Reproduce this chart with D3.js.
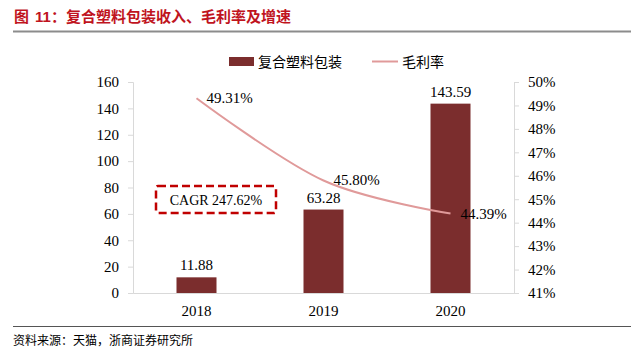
<!DOCTYPE html>
<html><head><meta charset="utf-8">
<script src="https://cdn.jsdelivr.net/npm/d3@7"></script>
<style>
body{margin:0;background:#fff;}
svg{display:block;}
</style></head>
<body>
<svg id="c" width="644" height="356"></svg>
<script>
const categories = ["2018", "2019", "2020"];
const revenue = [11.88, 63.28, 143.59];
const margin = [49.31, 45.80, 44.39];
const leftTicks = [0, 20, 40, 60, 80, 100, 120, 140, 160];
const rightTicks = [41, 42, 43, 44, 45, 46, 47, 48, 49, 50];
const titlePrefix = "图 11：";
const title = "复合塑料包装收入、毛利率及增速";
const source = "资料来源：天猫，浙商证券研究所";
const seriesNames = ["复合塑料包装", "毛利率"];
const cagrText = "CAGR 247.62%";

const svg = d3.select("#c");
const serif = "'Liberation Serif','Times New Roman',serif";
const cjk = "'Noto Sans CJK SC',sans-serif";
const L = 133, R = 514, T = 82, B = 293;
const barColor = "#7B2D2D", lineColor = "#E09A9A", axisColor = "#D9D9D9";

// title
const tt = svg.append("text").attr("x", 14).attr("y", 22).attr("fill", "#C0141E")
  .attr("font-family", "'Liberation Sans','Noto Sans CJK SC',sans-serif").attr("font-weight", "bold").attr("font-size", 15);
tt.append("tspan").attr("font-family", cjk).text("图");
tt.append("tspan").attr("dx", 6).text("11");
tt.append("tspan").attr("font-family", cjk).text("：" + title);
svg.append("line").attr("x1", 13).attr("x2", 631).attr("y1", 31.5).attr("y2", 31.5)
  .attr("stroke", "#8C8C8C").attr("stroke-width", 2);
svg.append("line").attr("x1", 13).attr("x2", 631).attr("y1", 326.5).attr("y2", 326.5)
  .attr("stroke", "#555").attr("stroke-width", 1);
svg.append("text").attr("x", 13).attr("y", 345).attr("fill", "#000")
  .attr("font-family", cjk).attr("font-size", 12).text(source);

const x = d3.scaleBand().domain(categories).range([L, R]).paddingInner(0).paddingOuter(0);
const yL = d3.scaleLinear().domain([0, 160]).range([B, T]);
const yR = d3.scaleLinear().domain([41, 50]).range([B, T]);

// axes
const axL = svg.append("g").attr("transform", `translate(${L},0)`)
  .call(d3.axisLeft(yL).tickValues(leftTicks).tickSize(5).tickPadding(9));
const axR = svg.append("g").attr("transform", `translate(${R},0)`)
  .call(d3.axisRight(yR).tickValues(rightTicks).tickSize(5).tickPadding(9).tickFormat(d => d + "%"));
const axX = svg.append("g").attr("transform", `translate(0,${B})`)
  .call(d3.axisBottom(x).tickSize(0).tickPadding(12));
[axL, axR, axX].forEach(g => {
  g.selectAll("path.domain").attr("stroke", axisColor);
  g.selectAll(".tick line").attr("stroke", axisColor);
  g.selectAll("text").attr("font-family", serif).attr("font-size", 15).attr("fill", "#000");
});

// bars
const bw = 40;
const cx = d => x(d) + x.bandwidth() / 2;
svg.append("g").selectAll("rect").data(categories).join("rect")
  .attr("x", d => cx(d) - bw / 2).attr("width", bw)
  .attr("y", (d, i) => yL(revenue[i])).attr("height", (d, i) => B - yL(revenue[i]))
  .attr("fill", barColor);
svg.append("g").selectAll("text").data(categories).join("text")
  .attr("x", d => cx(d)).attr("y", (d, i) => yL(revenue[i]) - 7)
  .attr("text-anchor", "middle").attr("font-family", serif).attr("font-size", 15)
  .text((d, i) => revenue[i].toFixed(2));

// line
const lineGen = d3.line().x((d, i) => cx(categories[i])).y(d => yR(d)).curve(d3.curveCardinal.tension(0));
svg.append("path").datum(margin).attr("d", lineGen).attr("fill", "none")
  .attr("stroke", lineColor).attr("stroke-width", 2);
svg.append("g").selectAll("text").data(margin).join("text")
  .attr("x", (d, i) => cx(categories[i]) + 10).attr("y", d => yR(d) + 5)
  .attr("font-family", serif).attr("font-size", 15)
  .text(d => d.toFixed(2) + "%");

// CAGR box
svg.append("rect").attr("x", 156).attr("y", 186).attr("width", 120).attr("height", 27)
  .attr("fill", "none").attr("stroke", "#C00000").attr("stroke-width", 2.5)
  .attr("stroke-dasharray", "8,4").attr("rx", 2);
svg.append("text").attr("x", 216).attr("y", 205).attr("text-anchor", "middle")
  .attr("font-family", serif).attr("font-size", 14).text(cagrText);

// legend
const lg = svg.append("g");
lg.append("rect").attr("x", 229).attr("y", 57).attr("width", 25).attr("height", 9).attr("fill", barColor);
lg.append("text").attr("x", 258).attr("y", 67).attr("font-family", cjk).attr("font-size", 14).text(seriesNames[0]);
lg.append("line").attr("x1", 372).attr("x2", 398).attr("y1", 61.5).attr("y2", 61.5).attr("stroke", lineColor).attr("stroke-width", 2);
lg.append("text").attr("x", 402).attr("y", 67).attr("font-family", cjk).attr("font-size", 14).text(seriesNames[1]);
</script>
</body></html>
